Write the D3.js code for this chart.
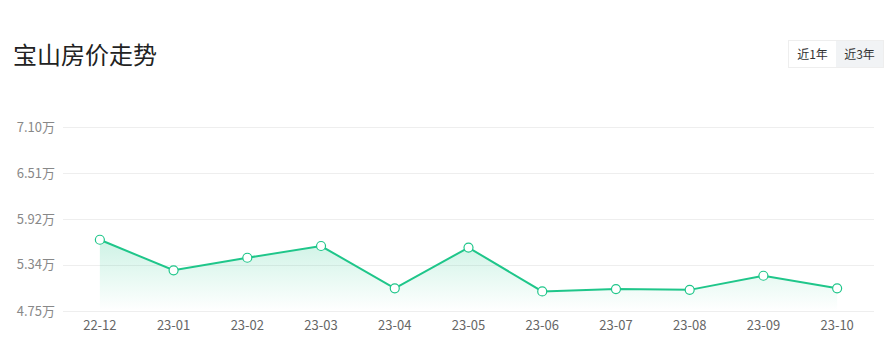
<!DOCTYPE html>
<html>
<head>
<meta charset="utf-8">
<script src="https://cdn.jsdelivr.net/npm/d3@7"></script>
<style>
  body { margin: 0; background: #fff; font-family: "Noto Sans CJK SC", "Noto Sans", sans-serif; }
  #container { position: relative; width: 892px; height: 360px; }
  .title { position: absolute; left: 13px; top: 36px; font-size: 24px; color: #222; }
  .btns { position: absolute; left: 788px; top: 40px; display: flex; border: 1px solid #eee; }
  .btns span { display: block; width: 47px; height: 26px; line-height: 26px; text-align: center; font-size: 12px; color: #333; }
  .btns span.on { background: #f1f3f5; }
</style>
</head>
<body>
<div id="container">
  <div class="title">宝山房价走势</div>
  <div class="btns"><span>近1年</span><span class="on">近3年</span></div>
</div>
<script>
const months = ['22-12', '23-01', '23-02', '23-03', '23-04', '23-05', '23-06', '23-07', '23-08', '23-09', '23-10'];
const prices = [5.66, 5.27, 5.43, 5.58, 5.04, 5.56, 5.00, 5.03, 5.02, 5.20, 5.04];
const yTicks = [4.75, 5.34, 5.92, 6.51, 7.10];

const w = 892;
const h = 360;
const pLeft = 63, pRight = 874, pTop = 127, pBottom = 311;
const green = '#1fc68a';

const svg = d3.select('#container')
  .append('svg')
  .attr('width', w)
  .attr('height', h)
  .style('position', 'absolute')
  .style('left', 0)
  .style('top', 0);

const x = d3.scaleBand()
  .domain(months)
  .range([pLeft, pRight]);

const y = d3.scaleLinear()
  .domain([4.75, 7.10])
  .range([pBottom, pTop]);

const grad = svg.append('defs')
  .append('linearGradient')
  .attr('id', 'area-grad')
  .attr('x1', 0).attr('y1', 0)
  .attr('x2', 0).attr('y2', 1);
grad.append('stop').attr('offset', '0%').attr('stop-color', green).attr('stop-opacity', 0.22);
grad.append('stop').attr('offset', '100%').attr('stop-color', green).attr('stop-opacity', 0);

// grid
svg.append('g')
  .selectAll('line')
  .data(yTicks)
  .enter()
  .append('line')
  .attr('x1', pLeft)
  .attr('x2', pRight)
  .attr('y1', d => Math.round(y(d)) + 0.5)
  .attr('y2', d => Math.round(y(d)) + 0.5)
  .attr('stroke', '#eeeeee');

svg.append('g')
  .selectAll('text')
  .data(yTicks)
  .enter()
  .append('text')
  .attr('x', 55)
  .attr('y', d => y(d))
  .attr('dy', '0.35em')
  .attr('text-anchor', 'end')
  .attr('fill', '#888')
  .style('font-size', '13px')
  .text(d => d.toFixed(2) + '万');

const xAxis = d3.axisBottom(x).tickSize(0).tickPadding(10);

const gx = svg.append('g')
  .attr('transform', 'translate(0,' + pBottom + ')')
  .call(xAxis);
gx.select('.domain').remove();
gx.selectAll('text')
  .attr('fill', '#666')
  .style('font-size', '13px')
  .style('font-family', '"Noto Sans CJK SC", "Noto Sans", sans-serif');

const cx = d => x(d) + x.bandwidth() / 2;

const area = d3.area()
  .x((d, i) => cx(months[i]))
  .y0(pBottom)
  .y1(d => y(d));

const line = d3.line()
  .x((d, i) => cx(months[i]))
  .y(d => y(d));

svg.append('path')
  .datum(prices)
  .attr('d', area)
  .attr('fill', 'url(#area-grad)');

svg.append('path')
  .datum(prices)
  .attr('d', line)
  .attr('fill', 'none')
  .attr('stroke', green)
  .attr('stroke-width', 2);

svg.append('g')
  .selectAll('circle')
  .data(prices)
  .enter()
  .append('circle')
  .attr('cx', (d, i) => cx(months[i]))
  .attr('cy', d => y(d))
  .attr('r', 4.5)
  .attr('fill', '#fff')
  .attr('stroke', green)
  .attr('stroke-width', 1.2);
</script>
</body>
</html>
